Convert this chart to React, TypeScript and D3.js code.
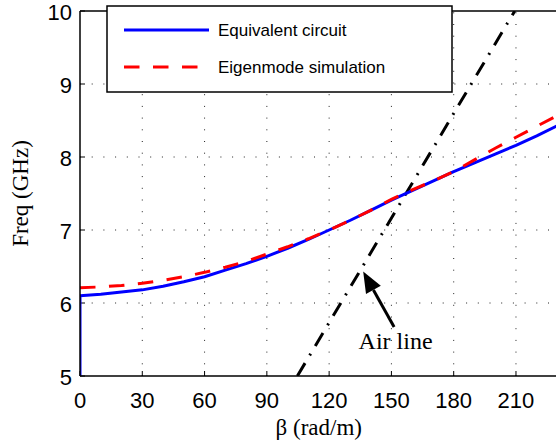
import React from "react";
import * as d3 from "d3";

// dispersion data (beta in rad/m, freq in GHz)
const circuitBeta = [0, 0, 10, 20, 30, 40, 50, 60, 70, 80, 90, 100, 110, 120, 130, 140, 150, 160, 170, 180, 190, 200, 210, 220, 230];
const circuitFreq = [5, 6.1, 6.12, 6.15, 6.18, 6.23, 6.29, 6.36, 6.45, 6.54, 6.64, 6.75, 6.87, 7.0, 7.13, 7.27, 7.41, 7.54, 7.67, 7.8, 7.92, 8.04, 8.16, 8.29, 8.43];

const eigenBeta = [0, 10, 20, 30, 40, 50, 60, 70, 80, 90, 100, 110, 120, 130, 140, 150, 160, 170, 180, 190, 200, 210, 220, 230];
const eigenFreq = [6.21, 6.22, 6.24, 6.27, 6.31, 6.36, 6.42, 6.49, 6.57, 6.67, 6.77, 6.88, 7.0, 7.13, 7.27, 7.42, 7.55, 7.67, 7.8, 7.96, 8.12, 8.27, 8.42, 8.57];

// light line f = c*beta/(2*pi)
const airBeta = [104.7, 209.4];
const airFreq = [5, 10];

const xTicks = [0, 30, 60, 90, 120, 150, 180, 210];
const yTicks = [5, 6, 7, 8, 9, 10];

// annotation: arrow tail/tip and label anchor, in data units
const arrowTail = [151.3, 5.67];
const arrowTip = [136.4, 6.43];
const airLabel = { text: "Air line", beta: 152, freq: 5.37 };

const legendItems = [
  { label: "Equivalent circuit", color: "#0000ff", dash: "none" },
  { label: "Eigenmode simulation", color: "#ff0000", dash: "15.5 13.5" },
];

const W = 556;
const H = 447;
const sans = "Arial, 'Liberation Sans', Helvetica, sans-serif";
const serif = "'Times New Roman', 'Liberation Serif', Times, serif";

export default function App() {
  const x = d3.scaleLinear().domain([0, 230]).range([80, 557.5]);
  const y = d3.scaleLinear().domain([5, 10]).range([376, 11]);

  const toPts = (bs: number[], fs: number[]) => bs.map((b, i) => [x(b), y(fs[i])] as [number, number]);
  const path = d3.line<[number, number]>();

  const circuitPath = path(toPts(circuitBeta, circuitFreq));
  const eigenPath = path(toPts(eigenBeta, eigenFreq));
  const airPath = path(toPts(airBeta, airFreq));

  // arrow head geometry
  const tx = x(arrowTip[0]), ty = y(arrowTip[1]);
  const sx = x(arrowTail[0]), sy = y(arrowTail[1]);
  const ang = Math.atan2(ty - sy, tx - sx);
  const headLen = 21, headHalf = 8.5;
  const bx = tx - headLen * Math.cos(ang), by = ty - headLen * Math.sin(ang);
  const head = [
    [tx, ty],
    [bx + headHalf * Math.sin(ang), by - headHalf * Math.cos(ang)],
    [bx - headHalf * Math.sin(ang), by + headHalf * Math.cos(ang)],
  ];

  const [x0, x1] = x.range();
  const [y0, y1] = y.range();

  return (
    <svg width={W} height={H} style={{ position: "absolute", left: 0, top: 0, background: "#fff" }}>
      <defs>
        <clipPath id="plot">
          <rect x={x0} y={y1} width={x1 - x0} height={y0 - y1} />
        </clipPath>
      </defs>
      <rect width={W} height={H} fill="#fff" />

      {/* grid */}
      <g stroke="#222" strokeWidth={1} strokeDasharray="1 10.7">
        {xTicks.filter((t) => t > 0).map((t) => (
          <line key={"gx" + t} x1={x(t)} x2={x(t)} y1={y0} y2={y1} />
        ))}
        {yTicks.filter((t) => t > 5 && t < 10).map((t) => (
          <line key={"gy" + t} x1={x0} x2={x1} y1={y(t)} y2={y(t)} />
        ))}
      </g>

      {/* inward ticks */}
      <g stroke="#000" strokeWidth={1}>
        {xTicks.map((t) => (
          <line key={"tx" + t} x1={x(t)} x2={x(t)} y1={y0} y2={y0 - 5} />
        ))}
        {yTicks.map((t) => (
          <line key={"ty" + t} x1={x0} x2={x0 + 5} y1={y(t)} y2={y(t)} />
        ))}
      </g>

      {/* series */}
      <g clipPath="url(#plot)" fill="none">
        <path d={airPath ?? ""} stroke="#000" strokeWidth={3} strokeDasharray="15 9 2 9" />
        <path d={circuitPath ?? ""} stroke="#0000ff" strokeWidth={3} strokeLinejoin="round" />
        <path d={eigenPath ?? ""} stroke="#ff0000" strokeWidth={3} strokeDasharray="15.5 13.5" />
      </g>

      {/* axes frame */}
      <g stroke="#000" strokeWidth={1.5} fill="none">
        <line x1={x0} x2={x0} y1={y0} y2={y1} />
        <line x1={x0} x2={x1} y1={y0} y2={y0} />
        <line x1={x0} x2={x1} y1={y1} y2={y1} />
        <line x1={x1} x2={x1} y1={y0} y2={y1} />
      </g>

      {/* tick labels */}
      <g fontFamily={sans} fontSize={22} fill="#000">
        {xTicks.map((t) => (
          <text key={"lx" + t} x={x(t)} y={408} textAnchor="middle">
            {t}
          </text>
        ))}
        {yTicks.map((t) => (
          <text key={"ly" + t} x={x0 - 8} y={y(t) + 1.5} textAnchor="end" dominantBaseline="central">
            {t}
          </text>
        ))}
      </g>

      {/* axis labels */}
      <text x={(x0 + x1) / 2} y={435} textAnchor="middle" fontFamily={serif} fontSize={23}>
        β (rad/m)
      </text>
      <text
        transform={`translate(28,${(y0 + y1) / 2}) rotate(-90)`}
        textAnchor="middle"
        fontFamily={serif}
        fontSize={23}
      >
        Freq (GHz)
      </text>

      {/* annotation */}
      <line x1={sx} y1={sy} x2={bx} y2={by} stroke="#000" strokeWidth={3} />
      <polygon points={head.map((p) => p.join(",")).join(" ")} fill="#000" />
      <text x={x(airLabel.beta)} y={y(airLabel.freq)} textAnchor="middle" fontFamily={serif} fontSize={24}>
        {airLabel.text}
      </text>

      {/* legend */}
      <g>
        <rect x={107} y={6} width={345} height={86} fill="#fff" stroke="#000" strokeWidth={1.5} />
        {legendItems.map((it, i) => {
          const ly = 30 + i * 37;
          return (
            <g key={it.label}>
              <line x1={124} x2={209} y1={ly} y2={ly} stroke={it.color} strokeWidth={3} strokeDasharray={it.dash} />
              <text x={218} y={ly} dominantBaseline="central" fontFamily={sans} fontSize={17}>
                {it.label}
              </text>
            </g>
          );
        })}
      </g>
    </svg>
  );
}
